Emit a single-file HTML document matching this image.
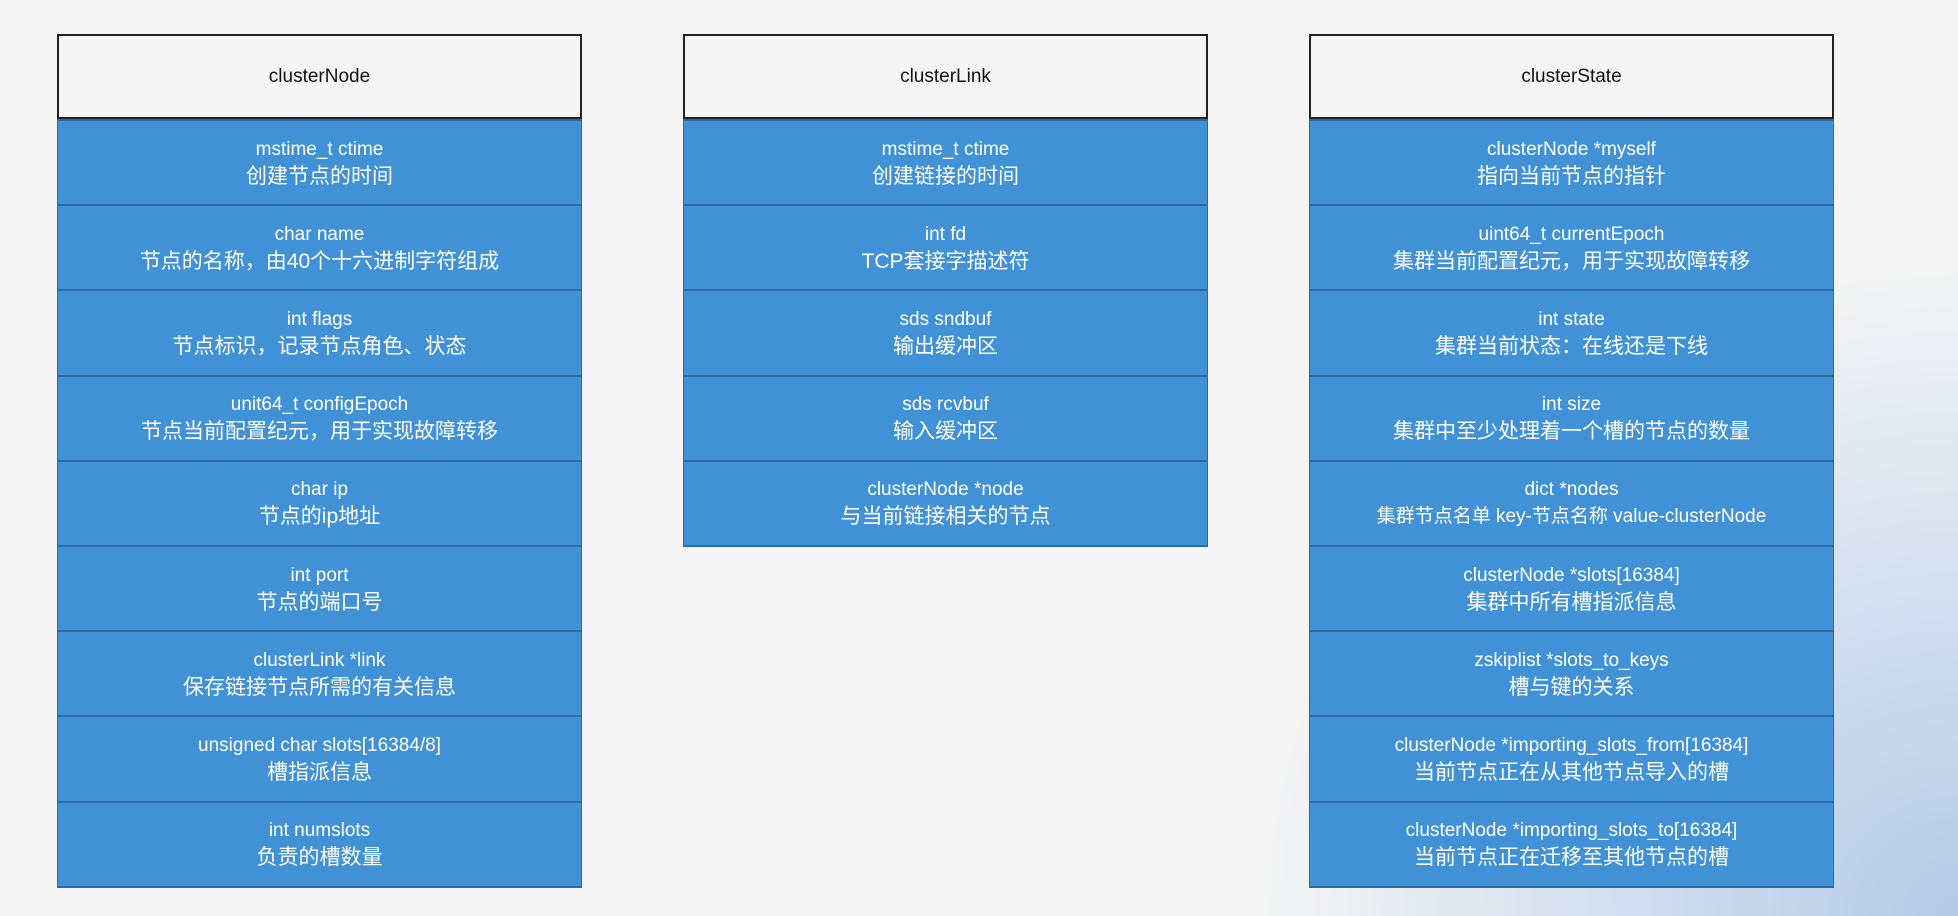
<!DOCTYPE html>
<html><head><meta charset="utf-8"><style>
html,body{margin:0;padding:0}
body{width:1958px;height:916px;position:relative;overflow:hidden;
background:#f4f4f4;
font-family:"Liberation Sans","Noto Sans CJK SC",sans-serif}
.bg{position:absolute;inset:0;background:radial-gradient(ellipse 700px 650px at 1958px 916px,#b6cae6 0%,#cddbee 40%,rgba(244,244,244,0) 100%)}
.tbl{position:absolute;top:34px;width:525px}
.hd{height:81px;border:2px solid #222;background:#f5f5f5;display:flex;align-items:center;justify-content:center;font-size:19px;color:#111}
.r{height:83.2px;border:1px solid #2d6aa3;border-top:2px solid #2d6aa3;border-bottom:0;background:#4191d6;color:#fff;display:flex;flex-direction:column;align-items:center;justify-content:center;text-align:center;line-height:27px}
.r:last-child{border-bottom:2px solid #2d6aa3}
.a{font-size:19px}
.b{font-size:21px}
</style></head><body><div class="bg"></div>

<div class="tbl" style="left:57px">
<div class="hd">clusterNode</div>
<div class="r"><span class="a">mstime_t ctime</span><span class="b">创建节点的时间</span></div>
<div class="r"><span class="a">char name</span><span class="b">节点的名称，由40个十六进制字符组成</span></div>
<div class="r"><span class="a">int flags</span><span class="b">节点标识，记录节点角色、状态</span></div>
<div class="r"><span class="a">unit64_t configEpoch</span><span class="b">节点当前配置纪元，用于实现故障转移</span></div>
<div class="r"><span class="a">char ip</span><span class="b">节点的ip地址</span></div>
<div class="r"><span class="a">int port</span><span class="b">节点的端口号</span></div>
<div class="r"><span class="a">clusterLink *link</span><span class="b">保存链接节点所需的有关信息</span></div>
<div class="r"><span class="a">unsigned char slots[16384/8]</span><span class="b">槽指派信息</span></div>
<div class="r"><span class="a">int numslots</span><span class="b">负责的槽数量</span></div>
</div>

<div class="tbl" style="left:683px">
<div class="hd">clusterLink</div>
<div class="r"><span class="a">mstime_t ctime</span><span class="b">创建链接的时间</span></div>
<div class="r"><span class="a">int fd</span><span class="b">TCP套接字描述符</span></div>
<div class="r"><span class="a">sds sndbuf</span><span class="b">输出缓冲区</span></div>
<div class="r"><span class="a">sds rcvbuf</span><span class="b">输入缓冲区</span></div>
<div class="r"><span class="a">clusterNode *node</span><span class="b">与当前链接相关的节点</span></div>
</div>

<div class="tbl" style="left:1309px">
<div class="hd">clusterState</div>
<div class="r"><span class="a">clusterNode *myself</span><span class="b">指向当前节点的指针</span></div>
<div class="r"><span class="a">uint64_t currentEpoch</span><span class="b">集群当前配置纪元，用于实现故障转移</span></div>
<div class="r"><span class="a">int state</span><span class="b">集群当前状态：在线还是下线</span></div>
<div class="r"><span class="a">int size</span><span class="b">集群中至少处理着一个槽的节点的数量</span></div>
<div class="r"><span class="a">dict *nodes</span><span class="b" style="font-size:19px">集群节点名单 key-节点名称 value-clusterNode</span></div>
<div class="r"><span class="a">clusterNode *slots[16384]</span><span class="b">集群中所有槽指派信息</span></div>
<div class="r"><span class="a">zskiplist *slots_to_keys</span><span class="b">槽与键的关系</span></div>
<div class="r"><span class="a">clusterNode *importing_slots_from[16384]</span><span class="b">当前节点正在从其他节点导入的槽</span></div>
<div class="r"><span class="a">clusterNode *importing_slots_to[16384]</span><span class="b">当前节点正在迁移至其他节点的槽</span></div>
</div>
</body></html>
